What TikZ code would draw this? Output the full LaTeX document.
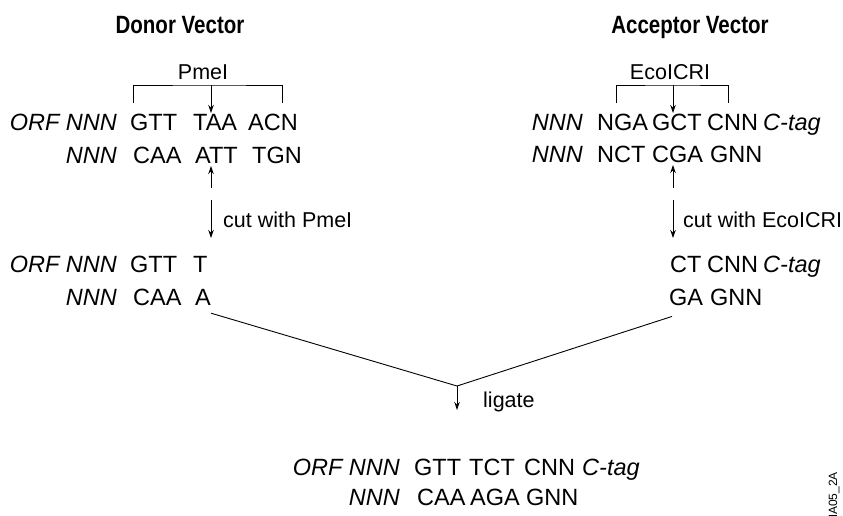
\documentclass[tikz,border=0pt]{standalone}
\usepackage{fontspec}
\setmainfont{Liberation Sans}
\newfontfamily\headfont[FakeStretch=0.82]{Liberation Sans}
\usetikzlibrary{arrows.meta}
\tikzset{
    seq/.style={
        anchor=base west,
        inner sep=0pt,
        font=\fontsize{23.5}{27}\selectfont
    },
    orf/.style={
        anchor=base east,
        inner sep=0pt,
        font=\fontsize{23.5}{27}\selectfont\itshape
    },
    ctag/.style={
        seq,
        font=\fontsize{23.5}{27}\selectfont\itshape
    },
    head/.style={
        anchor=base,
        inner sep=0pt,
        font=\headfont\fontsize{25}{30}\selectfont\bfseries
    },
    enzyme/.style={
        anchor=base,
        inner sep=0pt,
        font=\fontsize{21.5}{26}\selectfont
    },
    steplabel/.style={
        anchor=base west,
        inner sep=0pt,
        font=\fontsize{21.5}{26}\selectfont
    },
    cutarrow/.style={
        -{Stealth[length=8pt,width=5.5pt]},
        line width=0.9pt
    },
    site/.style={
        line width=0.9pt
    }
}

\begin{document}
\begin{tikzpicture}[x=1pt,y=-1pt]
\useasboundingbox (0,0) rectangle (843,515);
% headings
\node[head] (donor) at (180,33) {Donor Vector};
\node[head] (acceptor) at (690,33) {Acceptor Vector};
% donor vector
\node[enzyme] (pmei) at (203,79) {PmeI};
\node[orf] (d1orf) at (117,130) {ORF NNN};
\node[seq] (d1a) at (130,130) {GTT};
\node[seq] (d1b) at (193,130) {TAA};
\node[seq] (d1c) at (248,130) {ACN};
\node[orf] (d2orf) at (117,163) {NNN};
\node[seq] (d2a) at (133,163) {CAA};
\node[seq] (d2b) at (195,163) {ATT};
\node[seq] (d2c) at (252,163) {TGN};
\coordinate (pmeL) at (133,103);
\coordinate (pmeR) at (282,103);
\coordinate (pmeTop) at (211,85);
\coordinate (pmeLow) at (211,113);
\coordinate (pmeUp) at (211,166);
\coordinate (pmeBot) at (211,188);
\draw[site] (pmeL) |- (pmeTop) -| (pmeR);
\draw[cutarrow] (pmeTop) -- (pmeLow);
\draw[cutarrow] (pmeBot) -- (pmeUp);
\coordinate (dcutA) at (211,200);
\coordinate (dcutB) at (211,238);
\draw[cutarrow] (dcutA) -- (dcutB);
\node[steplabel] (dcut) at (223,227) {cut with PmeI};
\node[orf] (d3orf) at (117,272) {ORF NNN};
\node[seq] (d3a) at (130,272) {GTT};
\node[seq] (d3b) at (193,272) {T};
\node[orf] (d4orf) at (117,305) {NNN};
\node[seq] (d4a) at (133,305) {CAA};
\node[seq] (d4b) at (195,305) {A};
% acceptor vector
\node[enzyme] (ecoicri) at (670,79) {EcoICRI};
\node[orf] (a1orf) at (583,130) {NNN};
\node[seq] (a1a) at (597,130) {NGA};
\node[seq] (a1b) at (652,130) {GCT};
\node[seq] (a1c) at (707,130) {CNN};
\node[ctag] (a1tag) at (763,130) {C-tag};
\node[orf] (a2orf) at (583,162) {NNN};
\node[seq] (a2a) at (597,162) {NCT};
\node[seq] (a2b) at (652,162) {CGA};
\node[seq] (a2c) at (710,162) {GNN};
\coordinate (ecoL) at (616,103);
\coordinate (ecoR) at (728,103);
\coordinate (ecoTop) at (673,85);
\coordinate (ecoLow) at (673,113);
\coordinate (ecoUp) at (673,165);
\coordinate (ecoBot) at (673,188);
\draw[site] (ecoL) |- (ecoTop) -| (ecoR);
\draw[cutarrow] (ecoTop) -- (ecoLow);
\draw[cutarrow] (ecoBot) -- (ecoUp);
\coordinate (acutA) at (673,200);
\coordinate (acutB) at (673,238);
\draw[cutarrow] (acutA) -- (acutB);
\node[steplabel] (acut) at (683,227) {cut with EcoICRI};
\node[seq] (a3a) at (670,272) {CT};
\node[seq] (a3b) at (707,272) {CNN};
\node[ctag] (a3tag) at (763,272) {C-tag};
\node[seq] (a4a) at (669,305) {GA};
\node[seq] (a4b) at (710,305) {GNN};
% ligation
\coordinate (join) at (457,386);
\coordinate (ligtip) at (457,410);
\draw[site] ([yshift=-8pt]d4b.south east) -- (join) -- ([shift={(3,11)}]a4a.south west);
\draw[cutarrow] (join) -- (ligtip);
\node[steplabel] (ligate) at (483,407) {ligate};
% product
\node[orf] (p1orf) at (400,475) {ORF NNN};
\node[seq] (p1a) at (414,475) {GTT};
\node[seq] (p1b) at (469,475) {TCT};
\node[seq] (p1c) at (524,475) {CNN};
\node[ctag] (p1tag) at (582,475) {C-tag};
\node[orf] (p2orf) at (400,505) {NNN};
\node[seq] (p2a) at (417,505) {CAA};
\node[seq] (p2b) at (470,505) {AGA};
\node[seq] (p2c) at (526,505) {GNN};
\node[rotate=90, anchor=east, inner sep=0pt, font=\fontsize{12}{14}\selectfont] (figid) at (834,472) {MA05\_2A};
\end{tikzpicture}
\end{document}
